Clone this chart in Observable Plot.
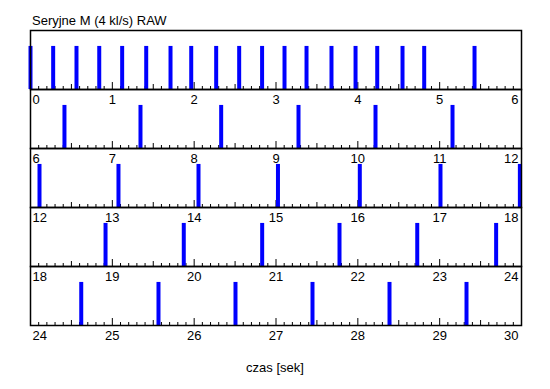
<!DOCTYPE html>
<html>
<head>
<meta charset="utf-8">
<script src="https://cdn.jsdelivr.net/npm/d3@7"></script>
<script src="https://cdn.jsdelivr.net/npm/@observablehq/plot@0.6"></script>
<style>
  html, body { margin: 0; padding: 0; background: #fff; }
  #wrap { position: relative; width: 550px; height: 389px; font-family: "Liberation Sans", Arial, sans-serif; }
  #wrap svg { position: absolute; left: 0; top: 0; }
  .lbl { position: absolute; font-size: 13px; line-height: 13px; color: #000; white-space: nowrap; }
</style>
</head>
<body>
<div id="wrap">
  <div class="lbl" id="title" style="left:32px; top:14px;">Seryjne M (4 kl/s) RAW</div>
  <div class="lbl" id="xlab" style="left:0; width:550px; text-align:center; top:361px; padding-left:-2px;">czas [sek]</div>
</div>
<script>
// Event times in seconds
const czasy = [
  0.0, 0.277, 0.562, 0.84, 1.12, 1.414, 1.711, 1.964, 2.269, 2.55, 2.83,
  3.104, 3.373, 3.678, 3.972, 4.237, 4.546, 4.811, 5.426,
  6.415, 7.344, 8.33, 9.275, 10.216, 11.157,
  12.11, 13.075, 14.053, 15.024, 16.024, 17.01, 17.98,
  18.917, 19.873, 20.831, 21.776, 22.726, 23.69,
  24.62, 25.564, 26.505, 27.446, 28.387, 29.328
];
// Seconds per row and row indices
const okno = 6;
const wiersze = [0, 1, 2, 3, 4];
// Tick label values per row (start of row + offset)
const etykietyOffset = [0, 1, 2, 3, 4, 5, 6];
// Minor tick step (s)
const krok = 0.1;

const events = czasy.map(t => {
  const p = Math.min(wiersze.length - 1, Math.floor(t / okno));
  return {p, x: t - p * okno};
});

const ticks = [];
for (const p of wiersze) {
  for (let i = 0; i <= okno / krok; i++) {
    const x = +(i * krok).toFixed(3);
    const len = i % 10 === 0 ? 7 : (i % 5 === 0 ? 5 : 3);
    ticks.push({p, x, len: len / 59.2});
  }
}

const labels = [];
for (const p of wiersze) {
  for (const o of etykietyOffset) {
    labels.push({p, x: o, label: String(p * okno + o)});
  }
}
const first = labels.filter(d => d.x === 0);
const last = labels.filter(d => d.x === okno);
const mid = labels.filter(d => d.x !== 0 && d.x !== okno);

const chart = Plot.plot({
  width: 550,
  height: 389,
  marginLeft: 30,
  marginRight: 29,
  marginTop: 29,
  marginBottom: 64,
  style: {fontFamily: "'Liberation Sans', Arial, sans-serif", fontSize: "13px", background: "transparent"},
  x: {domain: [0, okno], axis: null},
  y: {domain: [0, 1], axis: null},
  fy: {domain: wiersze, axis: null, padding: 0},
  marks: [
    Plot.ruleX(ticks, {x: "x", fy: "p", y1: 0, y2: "len", stroke: "black", strokeWidth: 1}),
    Plot.ruleX(events, {x: "x", fy: "p", y1: 0, y2: 0.73, stroke: "#0000ff", strokeWidth: 4}),
    Plot.frame({stroke: "black", strokeWidth: 1.5}),
    Plot.text(first, {x: "x", fy: "p", y: 0, text: "label", textAnchor: "start", lineAnchor: "bottom", dy: 14, dx: 2, fontSize: 13, fill: "black"}),
    Plot.text(mid, {x: "x", fy: "p", y: 0, text: "label", textAnchor: "middle", lineAnchor: "bottom", dy: 14, fontSize: 13, fill: "black"}),
    Plot.text(last, {x: "x", fy: "p", y: 0, text: "label", textAnchor: "end", lineAnchor: "bottom", dy: 14, dx: -3, fontSize: 13, fill: "black"})
  ]
});
document.getElementById("wrap").prepend(chart);
</script>
</body>
</html>
